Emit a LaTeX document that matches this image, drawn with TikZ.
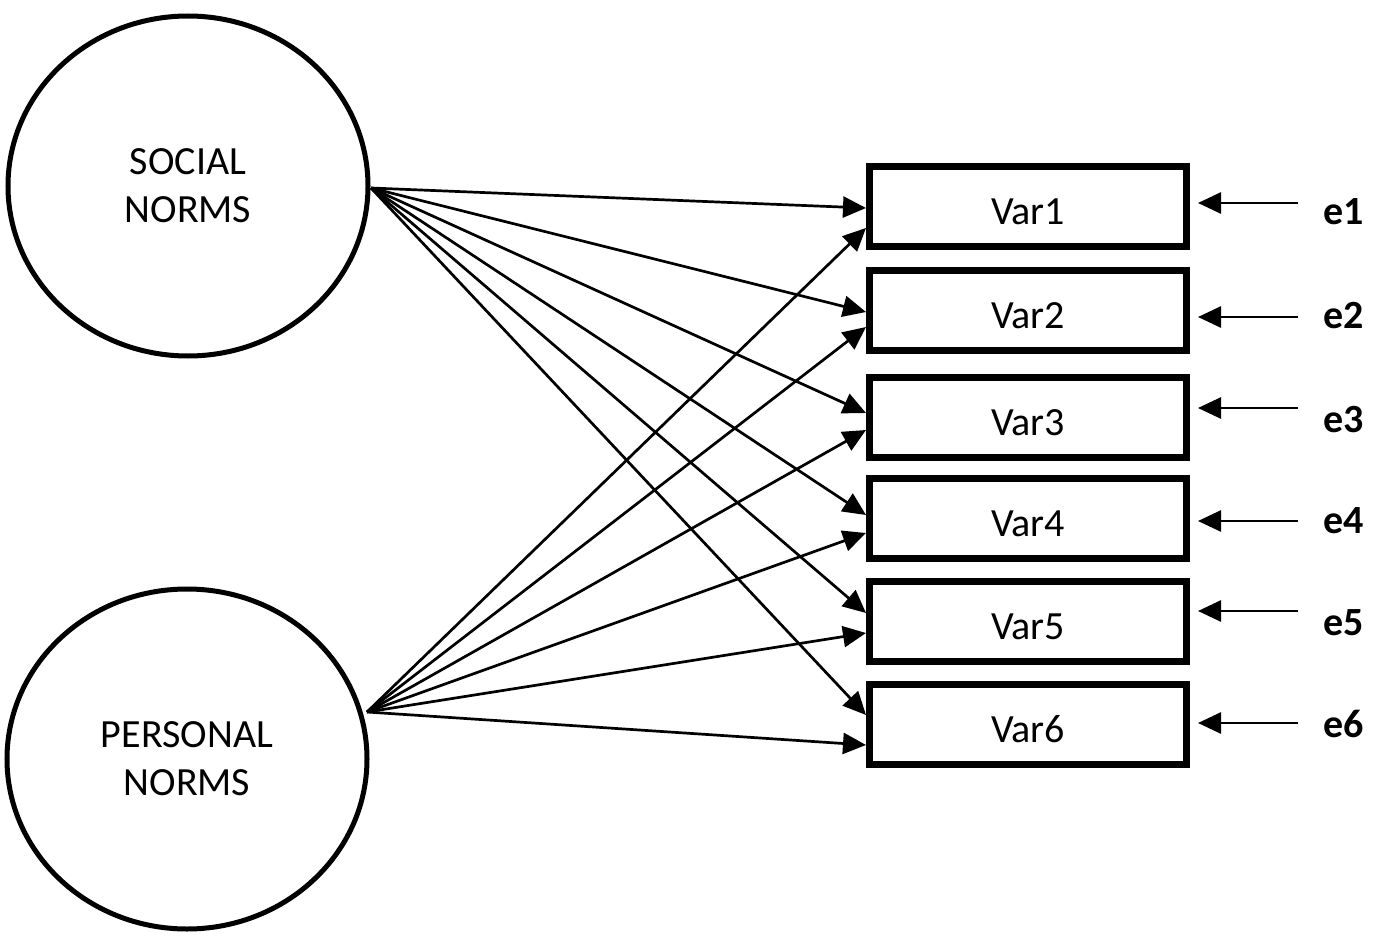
\documentclass[tikz,border=0pt]{standalone}
\usepackage{fontspec}
\setmainfont{Carlito}
\usetikzlibrary{shapes.geometric,arrows.meta,calc}
\tikzset{
  latent/.style={draw, ellipse, line width=5pt, minimum width=360pt, minimum height=340pt,
    align=center, font=\fontsize{40}{48}\selectfont},
  obsbox/.style={draw, rectangle, line width=7pt, minimum width=317pt, minimum height=80pt,
    inner sep=0pt, text height=36pt, text depth=0pt, font=\fontsize{40}{48}\selectfont},
  errlab/.style={inner sep=0pt, font=\fontsize{40}{46}\selectfont\bfseries},
  conn/.style={line width=2.7pt, -{Triangle[length=23pt,width=21pt]}},
}
\begin{document}
\begin{tikzpicture}[x=1pt,y=-1pt]
\useasboundingbox (0,0) rectangle (1374,939);
\node[latent] (soc) at (188,186) {SOCIAL\\NORMS};
\node[latent] (pers) at (187,759) {PERSONAL\\NORMS};
\coordinate (ss) at (371,188);
\coordinate (ps) at (367,712);

\node[obsbox] (v1) at (1028,206.5) {Var1};
\node[obsbox] (v2) at (1028,310) {Var2};
\node[obsbox] (v3) at (1028,417.5) {Var3};
\node[obsbox] (v4) at (1028,518) {Var4};
\node[obsbox] (v5) at (1028,621.5) {Var5};
\node[obsbox] (v6) at (1028,724) {Var6};

\draw[conn] (ss) -- ($(v1.west)+(0,1.5)$);
\draw[conn] (ss) -- ($(v2.west)+(0,2)$);
\draw[conn] (ss) -- ($(v3.west)+(0,-4.5)$);
\draw[conn] (ss) -- ($(v4.west)+(0,-3)$);
\draw[conn] (ss) -- ($(v5.west)+(0,-8.5)$);
\draw[conn] (ss) -- ($(v6.west)+(0,-9)$);

\draw[conn] (ps) -- ($(v1.west)+(0,21.5)$);
\draw[conn] (ps) -- ($(v2.west)+(0,17)$);
\draw[conn] (ps) -- ($(v3.west)+(0,12.5)$);
\draw[conn] (ps) -- ($(v4.west)+(0,15)$);
\draw[conn] (ps) -- ($(v5.west)+(0,11.5)$);
\draw[conn] (ps) -- ($(v6.west)+(0,21)$);

\node[errlab, anchor=west] (e1) at (1323,212) {e1};
\node[errlab, anchor=west] (e2) at (1323,316) {e2};
\node[errlab, anchor=west] (e3) at (1323,420) {e3};
\node[errlab, anchor=west] (e4) at (1323,521) {e4};
\node[errlab, anchor=west] (e5) at (1323,623) {e5};
\node[errlab, anchor=west] (e6) at (1323,724) {e6};

\coordinate (s1) at (1298,203);
\coordinate (s2) at (1298,317);
\coordinate (s3) at (1298,408);
\coordinate (s4) at (1298,521);
\coordinate (s5) at (1298,611);
\coordinate (s6) at (1298,723);
\draw[conn, shorten >=8pt] (s1) -- (v1.east |- s1);
\draw[conn, shorten >=8pt] (s2) -- (v2.east |- s2);
\draw[conn, shorten >=8pt] (s3) -- (v3.east |- s3);
\draw[conn, shorten >=8pt] (s4) -- (v4.east |- s4);
\draw[conn, shorten >=8pt] (s5) -- (v5.east |- s5);
\draw[conn, shorten >=8pt] (s6) -- (v6.east |- s6);
\end{tikzpicture}
\end{document}
